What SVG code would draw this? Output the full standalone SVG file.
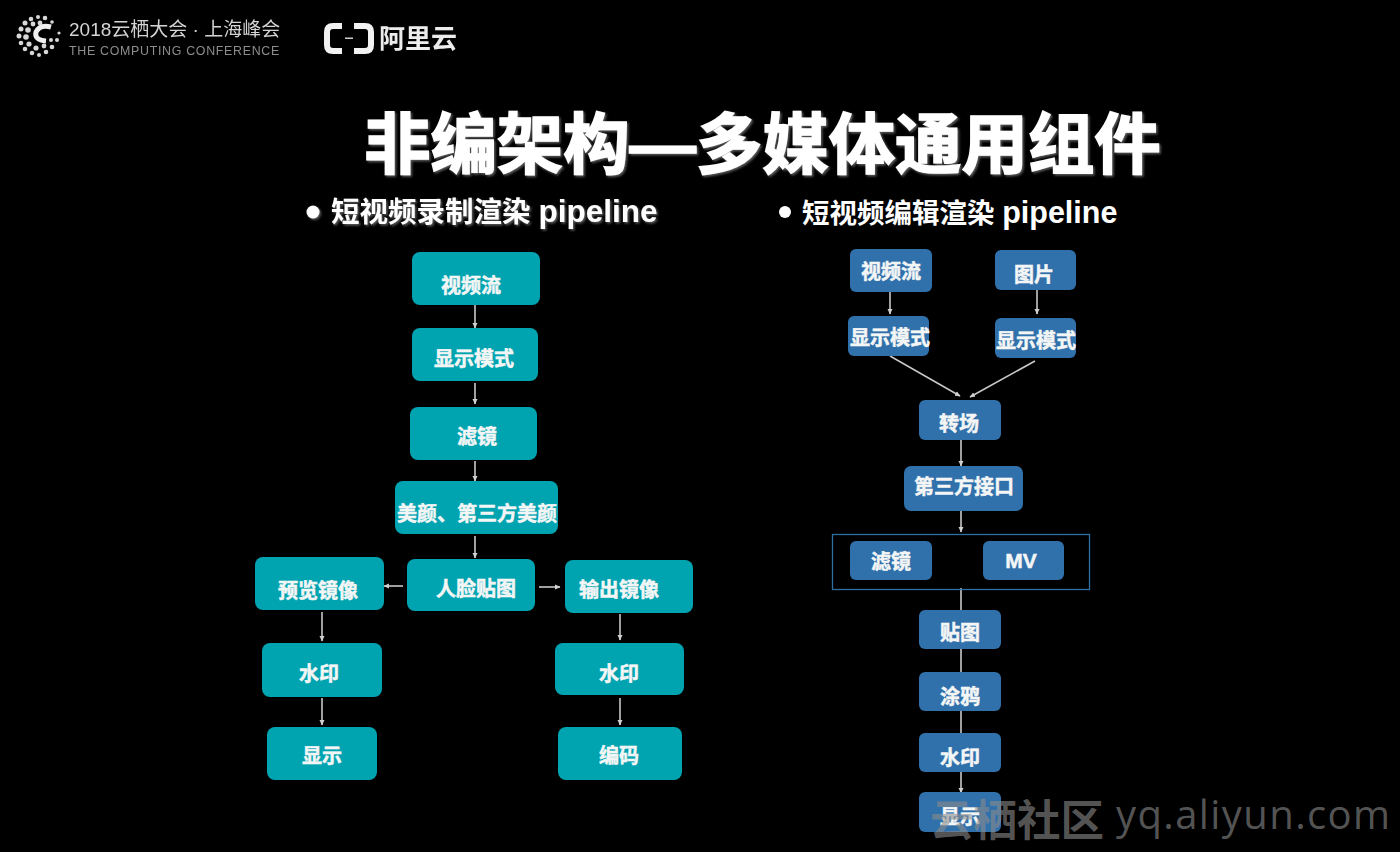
<svg xmlns="http://www.w3.org/2000/svg" width="1400" height="852" viewBox="0 0 1400 852">
  <style>
    text { font-family: "Liberation Sans", "Noto Sans CJK SC", sans-serif; }
    .teal { fill: #00a3b0; }
    .blue { fill: #3070ab; }
    .label { fill: #f4f6f6; font-weight: 700; text-anchor: middle; font-size: 20px; stroke: #f4f6f6; stroke-width: .5px; }
    .head { fill: #fff; font-weight: 700; font-size: 28.5px; }
    .head tspan { font-size: 31.5px; }
    .arrow { fill: none; stroke: #c8c8c8; stroke-width: 1.6px; marker-end: url(#tip); }
    .plain { fill: none; stroke: #c8c8c8; stroke-width: 1.6px; }
  </style>
  <defs>
    <marker id="tip" markerWidth="7" markerHeight="7" refX="5" refY="3" orient="auto" markerUnits="userSpaceOnUse">
      <path d="M0,0.5 L5.5,3 L0,5.5 Z" fill="#d0d0d0"/>
    </marker>
    <filter id="soft" x="-5%" y="-5%" width="110%" height="110%"><feGaussianBlur stdDeviation="0.5"/></filter>
    <filter id="glow" x="-5%" y="-20%" width="110%" height="140%"><feDropShadow dx="1.5" dy="1.5" stdDeviation="1.2" flood-color="#777" flood-opacity=".8"/></filter>
  </defs>
  <rect width="1400" height="852" fill="#000"/>

  <g id="conference-logo" filter="url(#soft)">
    <g fill="#d8d8d8">
      <circle cx="38" cy="17" r="2"/><circle cx="31" cy="19" r="2.300"/><circle cx="45" cy="18" r="2.300"/><circle cx="25" cy="23" r="2.500"/>
      <circle cx="52" cy="22" r="1.800"/><circle cx="21" cy="29" r="2.500"/><circle cx="19" cy="36" r="2.500"/><circle cx="21" cy="43" r="2.300"/>
      <circle cx="25" cy="49" r="2.300"/><circle cx="32" cy="53" r="2.300"/><circle cx="39" cy="55" r="2"/><circle cx="46" cy="52" r="2.300"/>
      <circle cx="52" cy="47" r="2.300"/><circle cx="57" cy="40" r="2"/><circle cx="59" cy="33" r="1.600"/><circle cx="28" cy="30" r="2.800"/>
      <circle cx="26" cy="37" r="2.800"/><circle cx="29" cy="44" r="2.600"/><circle cx="36" cy="48" r="2.600"/><circle cx="44" cy="46" r="2.400"/>
      <circle cx="51" cy="40" r="2"/><circle cx="33" cy="24" r="2.400"/><circle cx="40" cy="23" r="2.400"/>
    </g>
    <path d="M51,27 Q40,24 36,32 Q34,40 46,41" fill="none" stroke="#efefef" stroke-width="5"/>
    <text x="69" y="36" font-size="19" fill="#d4d4d4">2018云栖大会 · 上海峰会</text>
    <text x="69" y="55" font-size="12.400" letter-spacing=".7" fill="#8d8d8d">THE COMPUTING CONFERENCE</text>
  </g>
  <g id="aliyun-logo" filter="url(#soft)">
    <path d="M342,26 H333 Q327,26 327,32 V45 Q327,51 333,51 H342" fill="none" stroke="#f2f2f2" stroke-width="6"/>
    <path d="M354,26 H365 Q371,26 371,32 V45 Q371,51 365,51 H354" fill="none" stroke="#f2f2f2" stroke-width="6"/>
    <rect x="345" y="37.500" width="8" height="1.400" fill="#ddd"/>
    <text x="379" y="48" font-size="26" font-weight="700" fill="#ececec">阿里云</text>
  </g>

  <text id="page-title" x="364" y="168" font-size="66.400" font-weight="700" fill="#fff" stroke="#fff" stroke-width="1.600" filter="url(#glow)">非编架构—多媒体通用组件</text>

  <g id="heading-record" filter="url(#glow)">
    <circle cx="313" cy="212" r="6.500" fill="#fff"/>
    <text class="head" x="331" y="222">短视频录制渲染 <tspan>pipeline</tspan></text>
  </g>
  <g id="heading-edit">
    <circle cx="785" cy="212" r="6" fill="#fff"/>
    <text class="head" x="802" y="223" style="font-size:27.500px">短视频编辑渲染 <tspan style="font-size:30.500px">pipeline</tspan></text>
  </g>

  <g id="connectors">
    <path class="arrow" d="M475,305 V328"/>
    <path class="arrow" d="M475,383 V404"/>
    <path class="arrow" d="M475,461 V481"/>
    <path class="arrow" d="M475,536 V558"/>
    <path class="arrow" d="M403,586 H384"/>
    <path class="arrow" d="M539,587 H560"/>
    <path class="arrow" d="M322,612 V641"/>
    <path class="arrow" d="M322,698 V725"/>
    <path class="arrow" d="M620,614 V640"/>
    <path class="arrow" d="M620,698 V725"/>
    <path class="arrow" d="M890,290 V314"/>
    <path class="arrow" d="M1037,290 V314"/>
    <path class="arrow" d="M890,356 L960,396"/>
    <path class="arrow" d="M1035,361 L970,397"/>
    <path class="arrow" d="M961,440 V466"/>
    <path class="arrow" d="M961,511 V532"/>
    <path class="plain" d="M961,588 V610"/>
    <path class="plain" d="M961,649 V672"/>
    <path class="plain" d="M961,711 V733"/>
    <path class="arrow" d="M961,772 V793"/>
  </g>

  <g id="record-video"><rect class="teal" x="412" y="252" width="128" height="53" rx="8"/><text class="label" x="471" y="293">视频流</text></g>
  <g id="record-display-mode"><rect class="teal" x="412" y="328" width="126" height="53" rx="8"/><text class="label" x="474" y="366">显示模式</text></g>
  <g id="record-filter"><rect class="teal" x="410" y="407" width="127" height="53" rx="8"/><text class="label" x="477" y="444">滤镜</text></g>
  <g id="record-beauty"><rect class="teal" x="395" y="481" width="163" height="53" rx="8"/><text class="label" x="477" y="521">美颜、第三方美颜</text></g>
  <g id="record-face-sticker"><rect class="teal" x="407" y="559" width="128" height="52" rx="8"/><text class="label" x="476" y="596">人脸贴图</text></g>
  <g id="record-preview-mirror"><rect class="teal" x="255" y="557" width="129" height="53" rx="8"/><text class="label" x="318" y="598">预览镜像</text></g>
  <g id="record-output-mirror"><rect class="teal" x="565" y="560" width="128" height="53" rx="8"/><text class="label" x="619" y="597">输出镜像</text></g>
  <g id="record-watermark-left"><rect class="teal" x="262" y="643" width="120" height="54" rx="8"/><text class="label" x="319" y="681">水印</text></g>
  <g id="record-display"><rect class="teal" x="267" y="727" width="110" height="53" rx="8"/><text class="label" x="322" y="763">显示</text></g>
  <g id="record-watermark-right"><rect class="teal" x="555" y="643" width="129" height="52" rx="8"/><text class="label" x="619" y="681">水印</text></g>
  <g id="record-encode"><rect class="teal" x="558" y="727" width="124" height="53" rx="8"/><text class="label" x="619" y="763">编码</text></g>

  <g id="edit-video"><rect class="blue" x="850" y="249" width="82" height="43" rx="6"/><text class="label" x="891" y="279">视频流</text></g>
  <g id="edit-image"><rect class="blue" x="995" y="250" width="81" height="40" rx="6"/><text class="label" x="1034" y="282">图片</text></g>
  <g id="edit-display-mode-left"><rect class="blue" x="848" y="316" width="81" height="40" rx="6"/><text class="label" x="890" y="345">显示模式</text></g>
  <g id="edit-display-mode-right"><rect class="blue" x="995" y="318" width="81" height="40" rx="6"/><text class="label" x="1036" y="348">显示模式</text></g>
  <g id="edit-transition"><rect class="blue" x="919" y="400" width="82" height="40" rx="6"/><text class="label" x="959" y="431">转场</text></g>
  <g id="edit-third-party"><rect class="blue" x="904" y="466" width="119" height="45" rx="7"/><text class="label" x="964" y="494">第三方接口</text></g>
  <g id="edit-filter-group">
    <rect x="832.500" y="534.500" width="257" height="55" fill="none" stroke="#2f6f9f" stroke-width="1.300"/>
    <g id="edit-filter"><rect class="blue" x="850" y="541" width="82" height="39" rx="6"/><text class="label" x="891" y="569">滤镜</text></g>
    <g id="edit-mv"><rect class="blue" x="983" y="541" width="81" height="39" rx="6"/><text class="label" x="1021" y="568" style="font-size:21px">MV</text></g>
  </g>
  <g id="edit-sticker"><rect class="blue" x="919" y="610" width="82" height="39" rx="6"/><text class="label" x="960" y="640">贴图</text></g>
  <g id="edit-doodle"><rect class="blue" x="919" y="672" width="82" height="39" rx="6"/><text class="label" x="960" y="704">涂鸦</text></g>
  <g id="edit-watermark"><rect class="blue" x="919" y="733" width="82" height="39" rx="6"/><text class="label" x="960" y="765">水印</text></g>
  <g id="edit-display"><rect class="blue" x="919" y="792" width="82" height="40" rx="6"/><text class="label" x="960" y="824">显示</text></g>

  <g id="site-mark" fill="#8c8c8c" fill-opacity=".62">
    <text x="930" y="836" font-size="43.500" font-weight="700">云栖社区</text>
    <text x="1116" y="829" font-size="40" letter-spacing="1.400" style="font-family:'Open Sans',sans-serif">yq.aliyun.com</text>
  </g>
</svg>
